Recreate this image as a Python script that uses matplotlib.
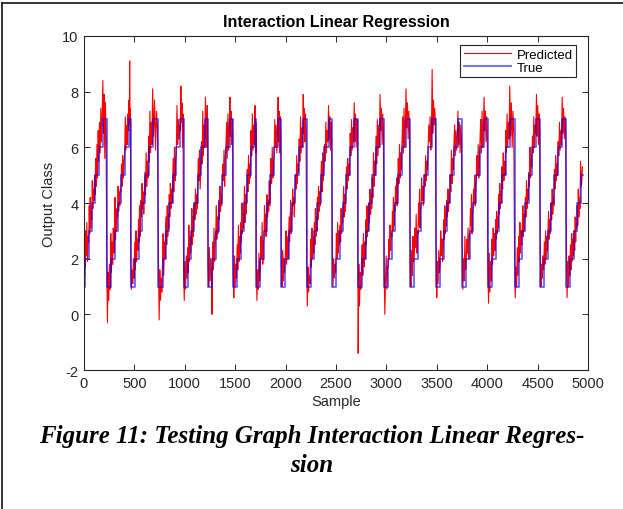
import numpy as np
import matplotlib
matplotlib.use("Agg")
import matplotlib.pyplot as plt
from matplotlib.lines import Line2D

plt.rcParams['font.family'] = ['Liberation Sans', 'DejaVu Sans']
plt.rcParams['axes.unicode_minus'] = False

# sample where each class cycle starts (drop back to class 1)
cycle_starts = [-30, 226, 464, 739, 988, 1231, 1480, 1709, 1958, 2209,
                2464, 2720, 2978, 3237, 3493, 3752, 4007, 4272, 4527, 4786]
n_samples = 4955
class_levels = [1, 2, 3, 4, 5, 6, 7]
# approx. samples spent on classes 1..6 (class 7 takes the rest of the cycle)
class_length = [40, 37, 30, 33, 37, 40]

# predicted output, one row per cycle, readings per class step (class 1 .. class 7)
predicted = [
    [[0.1, 1.6, 0.9, 2.2, 1.4, 2.6], [1.7, 3.0, 2.1, 3.3, 1.9, 2.8], [2.6, 3.9, 2.9, 4.2, 3.1, 3.7], [3.4, 4.8, 3.8, 4.5, 4.1, 5.0], [4.3, 5.6, 4.6, 6.1, 4.9, 6.6], [5.5, 6.9, 5.8, 7.4, 6.2, 7.1], [8.4, 6.5, 7.9, 5.6, 7.6, 6.3]],
    [[1.9, -0.3, 1.5, 0.5, 1.8, 0.9], [2.9, 1.5, 2.6, 1.8, 3.1, 2.2], [2.4, 4.2, 2.7, 3.8, 3.0, 3.5], [3.5, 4.6, 3.7, 4.4, 3.9, 4.5], [4.4, 5.4, 4.6, 5.7, 4.9, 5.5], [5.6, 7.1, 5.9, 6.8, 6.1, 7.2], [6.6, 7.7, 6.9, 9.1, 6.8, 7.4]],
    [[1.8, 0.9, 1.6, 1.1, 2.0, 1.3], [2.6, 1.6, 3.0, 1.9, 2.7, 2.3], [3.4, 2.6, 3.9, 2.8, 3.6, 4.1], [3.5, 4.7, 3.8, 4.4, 3.6, 4.2], [5.1, 4.3, 5.8, 4.6, 5.5, 4.9], [6.4, 5.5, 7.3, 5.8, 6.9, 6.1], [8.1, 6.4, 7.7, 5.9, 7.3, 6.6]],
    [[2.0, -0.2, 1.6, 0.5, 1.3, 0.8], [1.8, 2.9, 1.4, 2.6, 2.0, 3.1], [3.5, 2.5, 3.9, 2.8, 3.6, 3.1], [4.3, 3.5, 4.7, 3.8, 4.5, 4.0], [4.7, 5.6, 4.4, 6.0, 4.8, 5.5], [5.8, 7.5, 6.1, 7.0, 6.3, 6.8], [6.6, 8.2, 6.9, 7.6, 6.0, 7.2]],
    [[1.7, 0.5, 1.9, 0.9, 2.1, 1.3], [2.4, 1.5, 3.2, 1.9, 2.8, 2.2], [2.9, 3.8, 2.5, 3.5, 2.8, 3.9], [4.0, 3.4, 4.5, 3.6, 4.3, 3.8], [4.6, 5.6, 4.8, 5.9, 4.5, 5.3], [6.2, 5.4, 7.3, 5.7, 6.8, 6.0], [7.8, 6.3, 7.2, 6.0, 7.5, 6.4]],
    [[1.8, 1.0, 2.4, 1.2, 2.0, 1.4], [0.0, 2.6, 1.6, 3.1, 1.9, 2.7], [3.0, 3.9, 2.7, 3.5, 2.9, 3.3], [4.1, 3.4, 4.6, 3.7, 4.3, 3.9], [4.5, 5.4, 4.8, 5.9, 4.6, 5.6], [6.0, 6.9, 5.6, 7.2, 5.9, 6.7], [7.8, 6.4, 7.3, 6.1, 7.0, 6.5]],
    [[1.5, 0.6, 2.1, 1.0, 1.8, 1.3], [2.5, 1.6, 3.2, 1.9, 2.8, 2.2], [3.3, 2.6, 4.0, 2.9, 3.6, 3.1], [3.7, 4.6, 3.3, 4.3, 3.6, 4.1], [5.2, 4.4, 5.7, 4.7, 5.4, 4.9], [6.6, 5.7, 7.2, 5.9, 6.8, 6.1], [7.5, 6.1, 7.1, 5.8, 6.9, 6.3]],
    [[1.9, 0.5, 1.6, 0.9, 2.2, 1.2], [1.6, 2.8, 2.0, 3.3, 1.8, 2.6], [2.7, 3.9, 3.0, 3.6, 2.8, 3.3], [4.3, 3.5, 4.1, 3.7, 4.8, 3.9], [4.4, 5.6, 4.7, 6.0, 4.9, 5.5], [5.6, 7.0, 6.0, 6.8, 5.8, 6.6], [7.8, 6.2, 7.3, 5.8, 7.1, 6.4]],
    [[1.8, 1.0, 2.3, 1.2, 2.0, 1.5], [2.2, 3.0, 1.8, 2.8, 2.0, 2.6], [3.5, 2.6, 3.3, 4.1, 2.9, 3.6], [3.6, 4.5, 3.9, 4.2, 3.5, 4.4], [5.0, 4.5, 5.7, 4.7, 5.4, 5.1], [6.3, 5.5, 7.1, 5.8, 6.7, 6.0], [7.9, 6.5, 7.4, 6.2, 7.2, 6.6]],
    [[2.0, 0.3, 1.7, 0.8, 1.4, 1.1], [2.7, 1.7, 3.1, 2.0, 2.8, 2.2], [3.3, 2.5, 3.8, 2.8, 3.5, 3.0], [4.2, 3.4, 4.6, 3.7, 4.4, 3.9], [4.7, 5.5, 4.4, 5.8, 4.8, 5.3], [6.1, 5.5, 6.9, 5.8, 6.6, 6.2], [7.5, 6.3, 7.1, 5.9, 6.9, 6.2]],
    [[2.4, 1.0, 2.0, 1.3, 1.8, 1.5], [2.9, 2.0, 3.3, 2.2, 3.0, 2.5], [3.2, 2.6, 3.8, 2.9, 3.6, 3.3], [3.9, 4.6, 3.5, 4.3, 3.7, 4.4], [5.3, 4.5, 5.6, 4.8, 5.4, 5.0], [6.5, 5.7, 7.0, 5.9, 6.7, 6.2], [7.6, 6.2, 7.2, 6.0, 7.0, 6.6]],
    [[-1.4, 1.8, 0.3, 1.5, 0.9, 1.9], [2.5, 1.4, 2.9, 1.7, 2.6, 2.0], [3.4, 2.5, 3.9, 2.8, 3.5, 3.0], [4.0, 3.3, 4.5, 3.6, 4.3, 3.8], [4.9, 4.2, 5.8, 4.6, 5.5, 5.0], [6.4, 5.4, 7.0, 5.7, 6.8, 6.0], [7.9, 6.6, 7.4, 6.1, 7.2, 6.4]],
    [[1.6, 0.0, 1.3, 2.1, 0.9, 1.7], [1.7, 2.7, 2.0, 3.2, 2.3, 2.9], [2.8, 3.7, 3.0, 4.2, 3.2, 3.9], [3.7, 4.6, 4.0, 4.9, 3.9, 4.5], [5.6, 4.7, 6.1, 4.9, 5.8, 5.2], [6.2, 7.1, 5.8, 7.4, 6.0, 6.9], [8.1, 6.7, 7.6, 6.3, 7.3, 6.6]],
    [[1.7, 1.0, 2.3, 1.4, 2.8, 1.9], [2.1, 3.1, 2.4, 3.6, 2.2, 3.0], [2.9, 4.0, 3.2, 4.5, 3.1, 3.8], [3.8, 4.9, 4.1, 4.6, 3.9, 4.4], [5.0, 4.6, 5.7, 4.8, 5.5, 5.2], [6.0, 6.8, 6.2, 7.1, 5.9, 6.6], [8.8, 6.5, 7.7, 6.8, 7.4, 6.9]],
    [[2.6, 0.6, 1.9, 1.1, 2.3, 1.5], [1.8, 3.0, 2.1, 2.7, 1.9, 2.5], [3.4, 2.7, 3.9, 2.9, 3.6, 3.2], [4.1, 3.5, 4.5, 3.7, 4.3, 4.0], [5.0, 4.4, 5.9, 4.7, 5.6, 5.2], [6.1, 6.8, 5.7, 6.6, 5.9, 6.4], [7.3, 6.1, 6.9, 5.8, 6.8, 6.2]],
    [[2.5, 0.9, 2.0, 1.2, 2.8, 1.6], [1.9, 2.7, 2.2, 3.1, 2.0, 2.8], [3.0, 3.8, 3.2, 4.3, 2.9, 3.6], [3.7, 4.5, 4.0, 5.0, 3.9, 4.6], [4.8, 5.7, 5.0, 6.1, 4.9, 5.5], [6.3, 7.0, 5.8, 7.3, 6.0, 6.7], [7.8, 6.6, 7.3, 6.2, 7.1, 6.5]],
    [[1.6, 0.4, 2.2, 0.8, 1.9, 1.2], [2.7, 1.8, 3.1, 2.1, 2.9, 2.3], [3.4, 2.7, 3.7, 2.9, 3.5, 3.1], [4.3, 3.6, 4.7, 3.8, 4.4, 4.0], [5.3, 4.5, 5.8, 4.8, 5.5, 5.0], [6.6, 5.8, 7.2, 6.0, 6.9, 6.3], [8.2, 6.4, 7.6, 6.0, 7.3, 6.5]],
    [[2.0, 0.6, 1.7, 1.0, 2.4, 1.4], [2.8, 1.9, 3.3, 2.2, 3.0, 2.5], [3.2, 3.9, 2.8, 3.6, 3.0, 3.4], [4.2, 3.5, 4.8, 3.8, 4.5, 4.1], [5.1, 4.6, 6.0, 4.9, 5.7, 5.3], [6.4, 5.8, 7.1, 6.0, 6.8, 6.5], [7.9, 6.4, 7.5, 6.1, 7.2, 6.6]],
    [[2.3, 1.0, 1.8, 1.3, 2.1, 1.6], [2.6, 1.8, 3.0, 2.0, 2.8, 2.3], [3.1, 3.7, 2.7, 3.4, 2.9, 3.5], [4.0, 3.4, 4.5, 3.6, 4.2, 3.9], [5.2, 4.5, 5.7, 4.8, 5.4, 5.0], [6.2, 5.7, 6.9, 5.9, 6.6, 6.1], [7.8, 6.5, 7.4, 6.3, 7.1, 6.6]],
    [[2.4, 0.6, 1.9, 1.0, 2.1, 1.4], [2.5, 1.6, 2.9, 1.9, 2.7, 2.1], [3.0, 2.3, 3.5, 2.6, 3.3, 3.1], [3.9, 3.2, 4.5, 3.5, 4.2, 3.8], [5.5, 4.6, 5.3]],
]


def build_series():
    true_x, true_y, pred_x, pred_y = [], [], [], []
    ends = cycle_starts[1:] + [n_samples]
    for c, (start, end) in enumerate(zip(cycle_starts, ends)):
        edges = [start]
        for ln in class_length:
            edges.append(edges[-1] + ln)
        edges.append(end)
        for k, level in enumerate(class_levels):
            s = max(edges[k], 0)
            e = min(edges[k + 1], end)
            if e <= s:
                continue
            true_x += [s, e]
            true_y += [level, level]
            if k < len(predicted[c]):
                group = predicted[c][k]
                pred_x += list(np.linspace(s, e, len(group), endpoint=False))
                pred_y += group
    return true_x, true_y, pred_x, pred_y


def plot_regression():
    true_x, true_y, pred_x, pred_y = build_series()

    fig = plt.figure(figsize=(6.23, 5.10), dpi=100)
    ax = fig.add_axes([0.1348, 0.2725, 0.809, 0.655])

    ax.plot(pred_x, pred_y, color='#ff0000', lw=0.8, label='Predicted')
    ax.plot(true_x, true_y, color='#0000ff', alpha=0.6, lw=1.3, label='True')

    ax.set_xlim(0, 5000)
    ax.set_ylim(-2, 10)
    ax.set_xticks(np.arange(0, 5001, 500))
    ax.set_yticks(np.arange(-2, 11, 2))
    ax.tick_params(direction='in', length=4, width=0.7, top=True, right=True,
                   labelsize=10.5, colors='#262626', pad=4)
    for sp in ax.spines.values():
        sp.set_color('#262626')
        sp.set_linewidth(0.8)

    ax.set_title('Interaction Linear Regression', fontsize=11.5, fontweight='bold', pad=7)
    ax.set_xlabel('Sample', fontsize=10.5, color='#262626', labelpad=3)
    ax.set_ylabel('Output Class', fontsize=10.5, color='#262626', labelpad=4)

    legend = ax.legend(loc='upper right', bbox_to_anchor=(0.976, 0.972), borderaxespad=0,
                       fontsize=9.5, handlelength=3.6, fancybox=False, framealpha=1,
                       borderpad=0.25, labelspacing=0.05, handletextpad=0.4)
    frame = legend.get_frame()
    frame.set_edgecolor('#262626')
    frame.set_linewidth(0.8)

    cap = dict(ha='center', va='center', fontsize=18, fontweight='bold', style='italic',
               family=['Liberation Serif', 'DejaVu Serif'])
    fig.text(0.5, 1 - 437 / 510, 'Figure 11: Testing Graph Interaction Linear Regres-', **cap)
    fig.text(0.5, 1 - 466 / 510, 'sion', **cap)

    # page frame around the figure
    fig.add_artist(Line2D([2 / 623, 1], [1 - 4 / 510, 1 - 4 / 510], color='black', lw=1.1))
    fig.add_artist(Line2D([2 / 623, 2 / 623], [0, 1 - 4 / 510], color='black', lw=1.1))

    fig.savefig('out.png', dpi=100)


if __name__ == "__main__":
    plot_regression()
